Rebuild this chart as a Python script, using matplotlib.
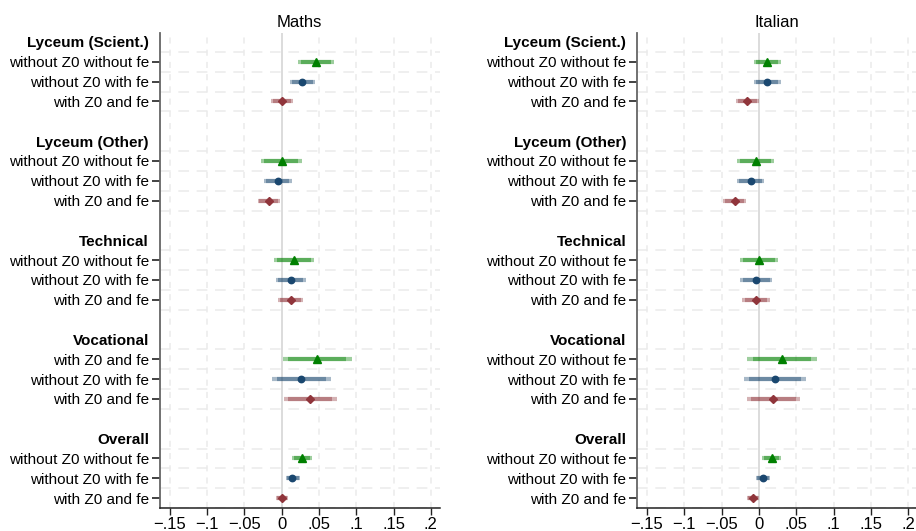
import numpy as np
import matplotlib
matplotlib.use("Agg")
import matplotlib.pyplot as plt

plt.rcParams['font.family'] = ['Liberation Sans', 'DejaVu Sans']

# ── Data ──────────────────────────────────────────────────────────────────────
groups = ["Lyceum (Scient.)", "Lyceum (Other)", "Technical", "Vocational", "Overall"]
specs = ["without Z0 without fe", "without Z0 with fe", "with Z0 and fe"]
# the Maths panel labels the first Vocational row differently in the original
maths_labels = [specs, specs, specs,
                ["with Z0 and fe", "without Z0 with fe", "with Z0 and fe"], specs]
italian_labels = [specs] * 5

# Maths: point estimates and 95% CI per specification, one value per group
maths_b_nofe = [0.0456, 0.0005, 0.0165, 0.0478, 0.0273]
maths_lo_nofe = [0.0214, -0.0278, -0.0103, 0.0017, 0.0143]
maths_hi_nofe = [0.0698, 0.0268, 0.0429, 0.0940, 0.0403]
maths_b_fe = [0.0277, -0.0054, 0.0125, 0.0264, 0.0143]
maths_lo_fe = [0.0111, -0.0237, -0.0076, -0.0130, 0.0054]
maths_hi_fe = [0.0447, 0.0134, 0.0322, 0.0662, 0.0242]
maths_b_z0 = [0.0000, -0.0170, 0.0125, 0.0385, 0.0009]
maths_lo_z0 = [-0.0143, -0.0322, -0.0045, 0.0031, -0.0072]
maths_hi_z0 = [0.0147, -0.0022, 0.0290, 0.0738, 0.0081]

# Italian
ita_b_nofe = [0.0103, -0.0045, 0.0004, 0.0308, 0.0170]
ita_lo_nofe = [-0.0071, -0.0295, -0.0254, -0.0156, 0.0045]
ita_hi_nofe = [0.0290, 0.0205, 0.0259, 0.0772, 0.0295]
ita_b_fe = [0.0103, -0.0112, -0.0040, 0.0210, 0.0054]
ita_lo_fe = [-0.0071, -0.0295, -0.0254, -0.0196, -0.0040]
ita_hi_fe = [0.0290, 0.0071, 0.0178, 0.0625, 0.0152]
ita_b_z0 = [-0.0156, -0.0326, -0.0040, 0.0192, -0.0076]
ita_lo_z0 = [-0.0308, -0.0482, -0.0223, -0.0165, -0.0156]
ita_hi_z0 = [-0.0005, -0.0170, 0.0143, 0.0549, 0.0004]

xticks = [-0.15, -0.1, -0.05, 0, 0.05, 0.1, 0.15, 0.2]
xticklabels = ["\u2212.15", "\u2212.1", "\u2212.05", "0", ".05", ".1", ".15", ".2"]

# ── Style ─────────────────────────────────────────────────────────────────────
COLORS = ["#008000", "#1a476f", "#90353b"]
MARKERS = ["^", "o", "D"]
MSIZE = [5.2, 4.6, 4.2]
Z_INNER = 1.645 / 1.96   # coefplot draws 90% inside the 95% interval


def draw_panel(ax, title, labels, series):
    ypos, ylabels, bold = [], [], []
    for g, name in enumerate(groups):
        base = 5 * g
        ypos.append(base)
        ylabels.append(name)
        bold.append(True)
        for k in range(3):
            ypos.append(base + 1 + k)
            ylabels.append(labels[g][k])
            bold.append(False)
        # dashed grid between coefficient rows
        for k in range(4):
            ax.axhline(base + 0.5 + k, color="#ebebeb", lw=1.1,
                       dashes=(7, 5), zorder=0)

    for xt in xticks:
        if xt == 0:
            ax.axvline(0, color="#d9d9d9", lw=1.3, zorder=1)
        else:
            ax.axvline(xt, color="#ebebeb", lw=1.1, dashes=(4, 4), zorder=0)

    for k, (b, lo, hi) in enumerate(series):
        b, lo, hi = map(np.asarray, (b, lo, hi))
        y = np.arange(5) * 5 + 1 + k
        c = COLORS[k]
        ilo = b + (lo - b) * Z_INNER
        ihi = b + (hi - b) * Z_INNER
        ax.hlines(y, lo, hi, color=c, alpha=0.38, lw=3.0, capstyle="butt", zorder=2)
        ax.hlines(y, ilo, ihi, color=c, alpha=0.42, lw=3.0, capstyle="butt", zorder=3)
        ax.plot(b, y, ls="none", marker=MARKERS[k], ms=MSIZE[k], color=c,
                mec=c, zorder=4)

    ax.set_xlim(-0.163, 0.2115)
    ax.set_ylim(23.5, -0.45)
    ax.set_xticks(xticks)
    ax.set_xticklabels(xticklabels, fontsize=12)
    ax.set_yticks(ypos)
    ax.set_yticklabels(ylabels, fontsize=11)
    for tl, b in zip(ax.get_yticklabels(), bold):
        if b:
            tl.set_fontweight("bold")
    for tk, b in zip(ax.yaxis.get_major_ticks(), bold):
        if b:
            tk.tick1line.set_visible(False)
    ax.tick_params(axis="y", length=6, width=1.2, color="#222222", pad=2)
    ax.tick_params(axis="x", length=5, width=1.0, color="#222222", pad=1.5)
    for s in ["top", "right"]:
        ax.spines[s].set_visible(False)
    ax.spines["left"].set_color("#666666")
    ax.spines["left"].set_linewidth(1.3)
    ax.spines["bottom"].set_color("#222222")
    ax.spines["bottom"].set_linewidth(1.1)
    ax.set_title(title, fontsize=12, pad=4)


fig = plt.figure(figsize=(9.16, 5.31), dpi=100)
ax1 = fig.add_axes([160 / 916, 23 / 531, 279.5 / 916, 475 / 531])
ax2 = fig.add_axes([637.3 / 916, 23 / 531, 279.5 / 916, 475 / 531])

draw_panel(ax1, "Maths", maths_labels, [
    (maths_b_nofe, maths_lo_nofe, maths_hi_nofe),
    (maths_b_fe, maths_lo_fe, maths_hi_fe),
    (maths_b_z0, maths_lo_z0, maths_hi_z0),
])
draw_panel(ax2, "Italian", italian_labels, [
    (ita_b_nofe, ita_lo_nofe, ita_hi_nofe),
    (ita_b_fe, ita_lo_fe, ita_hi_fe),
    (ita_b_z0, ita_lo_z0, ita_hi_z0),
])

fig.savefig("out.png", dpi=100)
